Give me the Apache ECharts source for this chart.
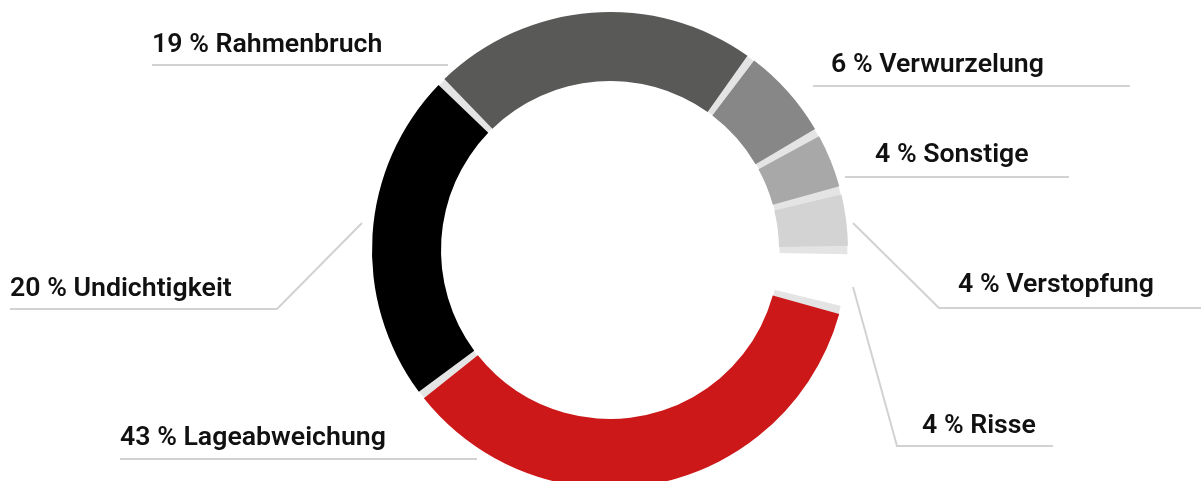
<!DOCTYPE html>
<html>
<head>
<meta charset="utf-8">
<script src="https://cdn.jsdelivr.net/npm/echarts@6/dist/echarts.min.js"></script>
<style>
html,body{margin:0;padding:0;background:#fff;}
#chart{width:1202px;height:481px;}
</style>
</head>
<body>
<div id="chart"></div>
<script>
// Categories (counter-clockwise from 3 o'clock)
const categories = ['Verstopfung', 'Sonstige', 'Verwurzelung', 'Rahmenbruch', 'Undichtigkeit', 'Lageabweichung', 'Risse'];
// Slice sizes as drawn in the picture (share of the full ring, %)
const sliceValues = [4.03, 4.17, 6.72, 22.6, 22.9, 35.5, 4.06];
// Percentages printed in the labels
const labelPercents = [4, 4, 6, 19, 20, 43, 4];
const colors = ['#d3d3d3', '#a8a8a8', '#878787', '#595958', '#000000', '#cc1819', '#ffffff'];

// Label layout (left x, baseline y) and leader-line points, per category
const labelPos = {
  'Verstopfung':    { x: 958, y: 292, line: [[853,223],[939,308],[1201,308]] },
  'Sonstige':       { x: 875, y: 162, line: [[845,177],[960,177],[1069,177]] },
  'Verwurzelung':   { x: 831, y: 72,  line: [[813,86],[1000,86],[1130,86]] },
  'Rahmenbruch':    { x: 152, y: 52,  line: [[448,65],[300,65],[152,65]] },
  'Undichtigkeit':  { x: 10,  y: 296, line: [[362,223],[277,309],[10,309]] },
  'Lageabweichung': { x: 120, y: 445, line: [[477,459],[300,459],[120,459]] },
  'Risse':          { x: 922, y: 433, line: [[853,287],[897,446],[1053,446]] }
};

const chart = echarts.init(document.getElementById('chart'), null, { renderer: 'canvas' });

const data = categories.map((name, i) => ({
  name: name,
  value: sliceValues[i],
  pct: labelPercents[i],
  itemStyle: { color: colors[i] }
}));

chart.setOption({
  animation: false,
  backgroundColor: '#ffffff',
  series: [
    {
      type: 'pie',
      silent: true,
      center: [610, 250],
      radius: [169.6, 237.4],
      z: 1,
      label: { show: false },
      labelLine: { show: false },
      itemStyle: { color: '#e4e4e4' },
      data: [{ value: 1, name: '' }]
    },
    {
      type: 'pie',
      center: [610, 250],
      radius: [169, 238],
      startAngle: 0,
      clockwise: false,
      padAngle: 2,
      z: 2,
      avoidLabelOverlap: false,
      data: data,
      label: {
        show: true,
        formatter: p => p.data.pct + ' % ' + p.name,
        fontFamily: 'Roboto',
        fontWeight: 600,
        fontSize: 26.7,
        color: '#111111'
      },
      labelLine: {
        show: true,
        smooth: false,
        lineStyle: { color: '#d2d2d2', width: 2 }
      },
      labelLayout: function (params) {
        const name = categories[params.dataIndex];
        const pos = labelPos[name];
        return {
          x: pos.x,
          y: pos.y - 7,
          align: 'left',
          verticalAlign: 'middle',
          labelLinePoints: pos.line
        };
      }
    }
  ]
});
</script>
</body>
</html>
